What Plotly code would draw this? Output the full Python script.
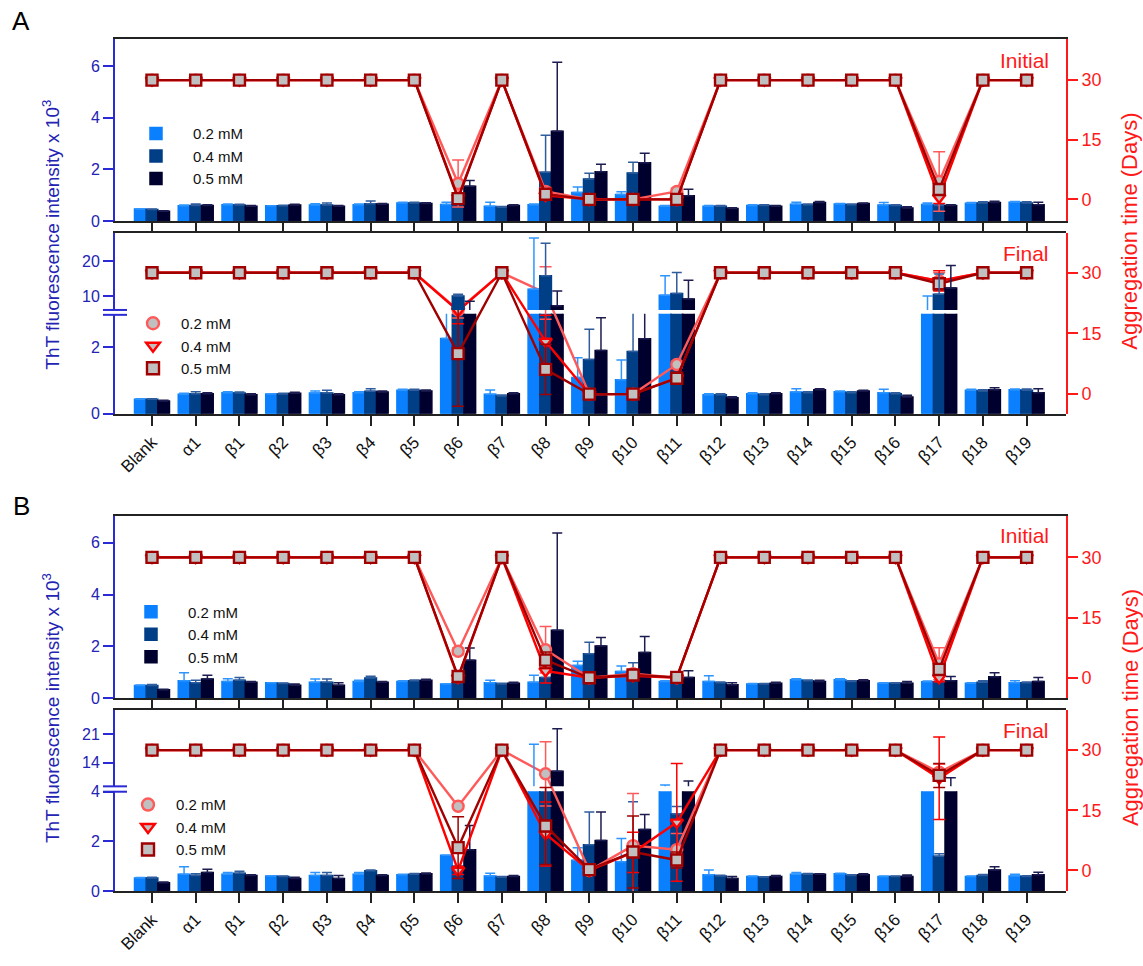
import plotly.graph_objects as go

# ---------------------------------------------------------------- data
categories = ["Blank", "α1", "β1", "β2", "β3", "β4", "β5", "β6", "β7", "β8", "β9",
              "β10", "β11", "β12", "β13", "β14", "β15", "β16", "β17", "β18", "β19"]
concentrations = ["0.2 mM", "0.4 mM", "0.5 mM"]

# Panel A - ThT fluorescence (x 10^3), initial
a_init_02 = [0.46, 0.59, 0.63, 0.59, 0.62, 0.63, 0.70, 0.64, 0.57, 0.63, 1.10, 1.03, 0.57, 0.57, 0.60, 0.65, 0.66, 0.62, 0.64, 0.69, 0.73]
a_init_02_err = [0, 0.03, 0.03, 0, 0.05, 0.03, 0.03, 0.09, 0.16, 0.03, 0.22, 0.10, 0.03, 0.03, 0.03, 0.08, 0.02, 0.10, 0.06, 0.03, 0.02]
a_init_04 = [0.44, 0.60, 0.62, 0.59, 0.62, 0.67, 0.70, 0.90, 0.53, 1.89, 1.63, 1.86, 0.60, 0.57, 0.60, 0.63, 0.63, 0.60, 0.60, 0.70, 0.70]
a_init_04_err = [0.02, 0.06, 0.03, 0.02, 0.08, 0.10, 0.03, 0.10, 0.03, 1.44, 0.22, 0.42, 0.03, 0.03, 0.03, 0.03, 0.03, 0.03, 0.03, 0.04, 0.04]
a_init_05 = [0.38, 0.60, 0.57, 0.62, 0.57, 0.65, 0.68, 1.35, 0.60, 3.48, 1.91, 2.26, 0.98, 0.48, 0.57, 0.72, 0.68, 0.50, 0.60, 0.72, 0.63]
a_init_05_err = [0.02, 0.03, 0.03, 0.03, 0.03, 0.03, 0.03, 0.22, 0.03, 2.68, 0.29, 0.37, 0.25, 0.03, 0.03, 0.03, 0.02, 0.05, 0.03, 0.04, 0.10]

# Panel A - ThT fluorescence (x 10^3), final
a_final_02 = [0.43, 0.58, 0.63, 0.59, 0.62, 0.63, 0.70, 2.26, 0.58, 11.9, 1.09, 1.02, 10.2, 0.57, 0.60, 0.65, 0.66, 0.63, 5.0, 0.70, 0.72]
a_final_02_err = [0.02, 0.03, 0.03, 0, 0.06, 0.03, 0.03, 0.8, 0.13, 14.7, 0.59, 0.59, 5.6, 0.03, 0.03, 0.10, 0.02, 0.10, 5.0, 0.03, 0.02]
a_final_04 = [0.43, 0.60, 0.62, 0.59, 0.62, 0.67, 0.70, 10.0, 0.53, 15.8, 1.63, 1.87, 10.7, 0.57, 0.57, 0.63, 0.63, 0.60, 10.5, 0.68, 0.70]
a_final_04_err = [0.02, 0.06, 0.03, 0.02, 0.08, 0.08, 0.03, 0.5, 0.03, 9.3, 0.91, 2.0, 6.0, 0.03, 0.03, 0.03, 0.03, 0.03, 5.8, 0.04, 0.04]
a_final_05 = [0.38, 0.60, 0.57, 0.61, 0.57, 0.65, 0.68, 5.5, 0.60, 7.2, 1.90, 2.25, 9.1, 0.48, 0.60, 0.72, 0.68, 0.50, 12.3, 0.72, 0.63]
a_final_05_err = [0.02, 0.03, 0.03, 0.03, 0.03, 0.03, 0.03, 3.0, 0.03, 4.2, 0.98, 1.8, 5.4, 0.03, 0.03, 0.03, 0.02, 0.05, 6.4, 0.06, 0.12]

# Panel A - aggregation time (days)
a_init_t02 = [30, 30, 30, 30, 30, 30, 30, 4.0, 30, 2.0, 0, 0, 2.0, 30, 30, 30, 30, 30, 4.5, 30, 30]
a_init_t02_err = [0, 0, 0, 0, 0, 0, 0, 5.9, 0, 1.0, 0, 0, 0.8, 0, 0, 0, 0, 0, 7.5, 0, 0]
a_init_t04 = [30, 30, 30, 30, 30, 30, 30, 0.5, 30, 1.0, 0, 0, 0, 30, 30, 30, 30, 30, 0.5, 30, 30]
a_init_t04_err = [0, 0, 0, 0, 0, 0, 0, 1.0, 0, 0.8, 0, 0, 0, 0, 0, 0, 0, 0, 1.5, 0, 0]
a_init_t05 = [30, 30, 30, 30, 30, 30, 30, 0.2, 30, 1.3, 0, 0, 0, 30, 30, 30, 30, 30, 2.5, 30, 30]
a_init_t05_err = [0, 0, 0, 0, 0, 0, 0, 0.8, 0, 0.8, 0, 0, 0, 0, 0, 0, 0, 0, 1.0, 0, 0]

a_final_t02 = [30, 30, 30, 30, 30, 30, 30, 20.8, 30, 25.0, 0, 0, 7.3, 30, 30, 30, 30, 30, 28.0, 30, 30]
a_final_t02_err = [0, 0, 0, 0, 0, 0, 0, 2.0, 0, 6.5, 0, 0, 0.8, 0, 0, 0, 0, 0, 2.0, 0, 0]
a_final_t04 = [30, 30, 30, 30, 30, 30, 30, 20.6, 30, 13.0, 0, 0, 4.0, 30, 30, 30, 30, 30, 28.0, 30, 30]
a_final_t04_err = [0, 0, 0, 0, 0, 0, 0, 3.2, 0, 6.5, 0, 0, 0.8, 0, 0, 0, 0, 0, 2.5, 0, 0]
a_final_t05 = [30, 30, 30, 30, 30, 30, 30, 10.0, 30, 6.1, 0, 0, 3.9, 30, 30, 30, 30, 30, 27.3, 30, 30]
a_final_t05_err = [0, 0, 0, 0, 0, 0, 0, 13.0, 0, 6.2, 0, 0, 0.8, 0, 0, 0, 0, 0, 1.5, 0, 0]

# Panel B - ThT fluorescence (x 10^3), initial
b_init_02 = [0.49, 0.68, 0.65, 0.60, 0.62, 0.65, 0.65, 0.55, 0.60, 0.62, 1.27, 1.03, 0.65, 0.65, 0.55, 0.72, 0.72, 0.58, 0.64, 0.58, 0.60]
b_init_02_err = [0.02, 0.31, 0.10, 0, 0.12, 0.05, 0.03, 0, 0.10, 0.27, 0.16, 0.22, 0.03, 0.22, 0.02, 0.03, 0.03, 0.02, 0.03, 0.02, 0.08]
b_init_04 = [0.49, 0.60, 0.70, 0.57, 0.62, 0.78, 0.68, 0.60, 0.55, 0.80, 1.72, 1.03, 0.60, 0.60, 0.55, 0.68, 0.65, 0.58, 0.64, 0.62, 0.60]
b_init_04_err = [0.04, 0.10, 0.10, 0.02, 0.12, 0.07, 0.03, 0.03, 0.03, 0.20, 0.44, 0.34, 0.03, 0.03, 0.02, 0.03, 0.03, 0.02, 0.06, 0.06, 0.03]
b_init_05 = [0.33, 0.74, 0.62, 0.50, 0.50, 0.62, 0.70, 1.47, 0.58, 2.63, 2.02, 1.77, 0.80, 0.52, 0.58, 0.65, 0.68, 0.58, 0.68, 0.83, 0.65]
b_init_05_err = [0.02, 0.15, 0.03, 0.05, 0.10, 0.03, 0.03, 0.47, 0.04, 3.75, 0.33, 0.61, 0.26, 0.08, 0.04, 0.05, 0.04, 0.07, 0.16, 0.16, 0.15]

# Panel B - ThT fluorescence (x 10^3), final
b_final_02 = [0.52, 0.68, 0.68, 0.60, 0.62, 0.68, 0.65, 1.44, 0.60, 6.0, 1.24, 1.18, 7.0, 0.65, 0.58, 0.68, 0.70, 0.58, 6.0, 0.58, 0.60]
b_final_02_err = [0.02, 0.30, 0.07, 0, 0.13, 0.07, 0.03, 0, 0.12, 12.6, 0.5, 0.94, 1.5, 0.20, 0.02, 0.07, 0.02, 0.02, 0, 0.02, 0.08]
b_final_04 = [0.52, 0.62, 0.72, 0.58, 0.62, 0.82, 0.68, 1.0, 0.55, 6.5, 1.86, 1.5, 3.1, 0.60, 0.55, 0.68, 0.62, 0.58, 1.4, 0.62, 0.58]
b_final_04_err = [0.03, 0.08, 0.08, 0.02, 0.13, 0.03, 0.03, 0, 0.03, 0, 1.32, 2.1, 0.3, 0.03, 0.02, 0.03, 0.03, 0.02, 0.1, 0.04, 0.03]
b_final_05 = [0.33, 0.75, 0.62, 0.50, 0.50, 0.62, 0.70, 1.66, 0.58, 11.9, 2.03, 2.48, 7.5, 0.50, 0.58, 0.68, 0.65, 0.58, 7.5, 0.85, 0.65]
b_final_05_err = [0.03, 0.13, 0.03, 0.05, 0.12, 0.03, 0.03, 0.98, 0.04, 10.5, 1.15, 0.6, 2.0, 0.08, 0.04, 0.02, 0.05, 0.06, 2.8, 0.13, 0.11]

# Panel B - aggregation time (days)
b_init_t02 = [30, 30, 30, 30, 30, 30, 30, 6.6, 30, 7.0, 0, 1.0, 0, 30, 30, 30, 30, 30, 3.5, 30, 30]
b_init_t02_err = [0, 0, 0, 0, 0, 0, 0, 0.8, 0, 5.8, 0, 0.5, 0, 0, 0, 0, 0, 0, 4.0, 0, 0]
b_init_t04 = [30, 30, 30, 30, 30, 30, 30, 0, 30, 1.7, 0, 0.5, 0, 30, 30, 30, 30, 30, 0, 30, 30]
b_init_t04_err = [0, 0, 0, 0, 0, 0, 0, 0.5, 0, 3.0, 0, 0.5, 0, 0, 0, 0, 0, 0, 1.0, 0, 0]
b_init_t05 = [30, 30, 30, 30, 30, 30, 30, 0.3, 30, 4.4, 0, 0.7, 0.1, 30, 30, 30, 30, 30, 2.1, 30, 30]
b_init_t05_err = [0, 0, 0, 0, 0, 0, 0, 0.5, 0, 2.0, 0, 0.5, 0, 0, 0, 0, 0, 0, 1.0, 0, 0]

b_final_t02 = [30, 30, 30, 30, 30, 30, 30, 16.0, 30, 24.1, 0, 6.2, 5.2, 30, 30, 30, 30, 30, 24.5, 30, 30]
b_final_t02_err = [0, 0, 0, 0, 0, 0, 0, 0, 0, 8.0, 0, 13.0, 4.0, 0, 0, 0, 0, 0, 2.0, 0, 0]
b_final_t04 = [30, 30, 30, 30, 30, 30, 30, 0, 30, 9.1, 0, 4.5, 12.0, 30, 30, 30, 30, 30, 23.0, 30, 30]
b_final_t04_err = [0, 0, 0, 0, 0, 0, 0, 1.0, 0, 8.0, 0, 5.0, 14.7, 0, 0, 0, 0, 0, 10.3, 0, 0]
b_final_t05 = [30, 30, 30, 30, 30, 30, 30, 5.7, 30, 11.1, 0.2, 4.6, 2.6, 30, 30, 30, 30, 30, 23.7, 30, 30]
b_final_t05_err = [0, 0, 0, 0, 0, 0, 0, 7.7, 0, 9.6, 0, 9.0, 2.0, 0, 0, 0, 0, 0, 3.0, 0, 0]

# ---------------------------------------------------------------- styles
FONT = "Arial, Liberation Sans, sans-serif"
BAR_FILL = ["#0A80FF", "#003E86", "#00002E"]
BAR_ERR = ["#2E95FF", "#2F5C9C", "#1C1C50"]
LINE_COL = ["#FF5A5A", "#FF0000", "#A00000"]
SYMBOLS = ["circle", "triangle-down", "square"]
MARKER_FILL = "#C0C0C0"
BLUE_AX = "#2B2BD6"
BLUE_TXT = "#2323B4"
RED_AX = "#FF1A1A"
DARK = "#222222"

W, H = 1143, 966
ML, MR, MT, MB = 115, 77, 39, 56
PW, PH = W - ML - MR, H - MT - MB


def fx(px):
    return (px - ML) / PW


def fy(px):
    return (H - MB - px) / PH


def nz(errs):
    return [e if e else None for e in errs]


fig = go.Figure()


def add_bars(series, errs, xa, ya, legend=None):
    for i, (vals, err) in enumerate(zip(series, errs)):
        kw = dict(legend=legend, showlegend=True) if legend else dict(showlegend=False)
        fig.add_trace(go.Bar(
            x=categories, y=vals, name=concentrations[i], xaxis=xa, yaxis=ya,
            marker=dict(color=BAR_FILL[i], line=dict(width=1.5, color=BAR_FILL[i])),
            error_y=dict(type="data", array=nz(err), arrayminus=[None] * len(err),
                         symmetric=False, color=BAR_ERR[i], thickness=1.5, width=5),
            **kw))


def add_times(series, errs, xa, ya):
    for i, (vals, err) in enumerate(zip(series, errs)):
        fig.add_trace(go.Scatter(
            x=categories, y=vals, name=concentrations[i], xaxis=xa, yaxis=ya,
            mode="lines+markers", showlegend=False,
            line=dict(color=LINE_COL[i], width=2.4),
            marker=dict(symbol=SYMBOLS[i], size=11, color=MARKER_FILL,
                        line=dict(color=LINE_COL[i], width=2.4)),
            error_y=dict(type="data", array=nz(err), color=LINE_COL[i],
                         thickness=1.5, width=6)))


def add_marker_legend(xa, ya, legend):
    for i in range(3):
        fig.add_trace(go.Scatter(
            x=[None], y=[None], name=concentrations[i], xaxis=xa, yaxis=ya,
            mode="markers", legend=legend, showlegend=True,
            marker=dict(symbol=SYMBOLS[i], size=12, color=MARKER_FILL,
                        line=dict(color=LINE_COL[i], width=2.4))))


# Panel A
add_bars([a_init_02, a_init_04, a_init_05], [a_init_02_err, a_init_04_err, a_init_05_err], "x", "y", "legend")
add_times([a_init_t02, a_init_t04, a_init_t05], [a_init_t02_err, a_init_t04_err, a_init_t05_err], "x", "y5")
a_fin = [a_final_02, a_final_04, a_final_05]
a_fin_err = [a_final_02_err, a_final_04_err, a_final_05_err]
add_bars(a_fin, a_fin_err, "x2", "y2")
add_bars(a_fin, a_fin_err, "x3", "y3")
add_times([a_final_t02, a_final_t04, a_final_t05], [a_final_t02_err, a_final_t04_err, a_final_t05_err], "x2", "y4")
add_marker_legend("x2", "y4", "legend2")

# Panel B
add_bars([b_init_02, b_init_04, b_init_05], [b_init_02_err, b_init_04_err, b_init_05_err], "x4", "y6", "legend3")
add_times([b_init_t02, b_init_t04, b_init_t05], [b_init_t02_err, b_init_t04_err, b_init_t05_err], "x4", "y7")
b_fin = [b_final_02, b_final_04, b_final_05]
b_fin_err = [b_final_02_err, b_final_04_err, b_final_05_err]
add_bars(b_fin, b_fin_err, "x5", "y8")
add_bars(b_fin, b_fin_err, "x6", "y9")
add_times([b_final_t02, b_final_t04, b_final_t05], [b_final_t02_err, b_final_t04_err, b_final_t05_err], "x5", "y10")
add_marker_legend("x5", "y10", "legend4")

# ---------------------------------------------------------------- axes
XR = [-0.846, 20.9]


def xaxis(anchor, labels=False, side="bottom", mirror=False):
    d = dict(domain=[0, 1], anchor=anchor, range=XR, type="category",
             categoryorder="array", categoryarray=categories, side=side,
             showline=True, linecolor=DARK, linewidth=2, mirror=mirror,
             ticks="outside", ticklen=10, tickwidth=1.5, tickcolor=DARK,
             showgrid=False, zeroline=False, showticklabels=labels,
             tickangle=-45, tickfont=dict(family=FONT, size=17, color="#111111"))
    return d


def yleft(domain, rng, tickvals, anchor):
    return dict(domain=domain, range=rng, anchor=anchor, side="left",
                tickvals=tickvals, showline=True, linecolor=BLUE_AX, linewidth=2,
                ticks="outside", ticklen=10, tickwidth=1.5, tickcolor=BLUE_AX,
                showgrid=False, zeroline=False,
                tickfont=dict(family=FONT, size=16, color=BLUE_TXT))


def yright(domain, rng, anchor, overlaying=None):
    d = dict(domain=domain, range=rng, anchor=anchor, side="right",
             tickvals=[0, 15, 30], showline=True, linecolor=RED_AX, linewidth=2,
             ticks="outside", ticklen=10, tickwidth=1.5, tickcolor=RED_AX,
             showgrid=False, zeroline=False,
             tickfont=dict(family=FONT, size=18, color=RED_AX))
    if overlaying:
        d["overlaying"] = overlaying
    return d


layout_axes = dict(
    xaxis=xaxis("y", mirror=True),
    xaxis2=xaxis("y2", labels=True),
    xaxis3=xaxis("y3", side="top"),
    xaxis4=xaxis("y6", mirror=True),
    xaxis5=xaxis("y8", labels=True),
    xaxis6=xaxis("y9", side="top"),
    # A initial
    yaxis=yleft([fy(225), fy(39)], [0, 7.06], [0, 2, 4, 6], "x"),
    yaxis5=yright([fy(225), fy(39)], [-5.41, 40.33], "x", overlaying="y"),
    # A final (broken left axis)
    yaxis2=yleft([fy(422), fy(320)], [0, 3.0], [0, 2], "x2"),
    yaxis3=yleft([fy(316), fy(237)], [6.0, 28.1], [10, 20], "x3"),
    yaxis4=yright([fy(422), fy(237)], [-4.84, 39.92], "x2"),
    # B initial
    yaxis6=yleft([fy(713), fy(527)], [0, 7.02], [0, 2, 4, 6], "x4"),
    yaxis7=yright([fy(713), fy(527)], [-5.12, 40.24], "x4", overlaying="y6"),
    # B final (broken left axis)
    yaxis8=yleft([fy(910), fy(808)], [0, 4.02], [0, 2, 4], "x5"),
    yaxis9=yleft([fy(803), fy(725)], [8.2, 27.0], [14, 21], "x6"),
    yaxis10=yright([fy(910), fy(725)], [-5.12, 40.0], "x5"),
)


def legend_box(x, y, itemwidth):
    return dict(x=fx(x), y=fy(y), xanchor="left", yanchor="top",
                bgcolor="rgba(0,0,0,0)", borderwidth=0, itemwidth=itemwidth,
                font=dict(family=FONT, size=15, color="#111111"),
                tracegroupgap=0, itemclick=False)


# break marks on the left axis of the final panels
shapes = []
for y1, y2 in [(316, 321), (803, 808.5)]:
    for yy in (y1, y2):
        shapes.append(dict(type="line", xref="paper", yref="paper",
                           x0=fx(103), x1=fx(127), y0=fy(yy), y1=fy(yy),
                           line=dict(color=BLUE_AX, width=2)))

annotations = [
    dict(text="A", x=fx(21), y=fy(21), font=dict(size=26, color="#000000")),
    dict(text="B", x=fx(21), y=fy(516), font=dict(size=26, color="#000000")),
    dict(text="Initial", x=fx(1051), y=fy(61), xanchor="right", font=dict(size=21, color=RED_AX)),
    dict(text="Final", x=fx(1051), y=fy(258), xanchor="right", font=dict(size=21, color=RED_AX)),
    dict(text="Initial", x=fx(1051), y=fy(547), xanchor="right", font=dict(size=21, color=RED_AX)),
    dict(text="Final", x=fx(1051), y=fy(746), xanchor="right", font=dict(size=21, color=RED_AX)),
]
for yc in (239, 723):
    annotations.append(dict(text="ThT fluorescence intensity x 10<sup>3</sup>", x=fx(51), y=fy(yc),
                            textangle=-90, font=dict(size=19, color=BLUE_TXT)))
for yc in (236, 723):
    annotations.append(dict(text="Aggregation time (Days)", x=fx(1130), y=fy(yc),
                            textangle=-90, font=dict(size=22, color=RED_AX)))
for a in annotations:
    a.setdefault("xanchor", "center")
    a.update(xref="paper", yref="paper", yanchor="middle", showarrow=False)
    a["font"]["family"] = FONT

fig.update_layout(
    width=W, height=H, autosize=False,
    margin=dict(l=ML, r=MR, t=MT, b=MB, pad=0),
    paper_bgcolor="white", plot_bgcolor="rgba(0,0,0,0)",
    font=dict(family=FONT, color="#111111"),
    barmode="group", bargap=0.2, bargroupgap=0,
    legend=legend_box(119, 119, 64),
    legend2=legend_box(125, 313, 46),
    legend3=legend_box(114, 608, 64),
    legend4=legend_box(120, 805, 46),
    shapes=shapes, annotations=annotations,
    **layout_axes,
)

fig.write_html("out.html")
